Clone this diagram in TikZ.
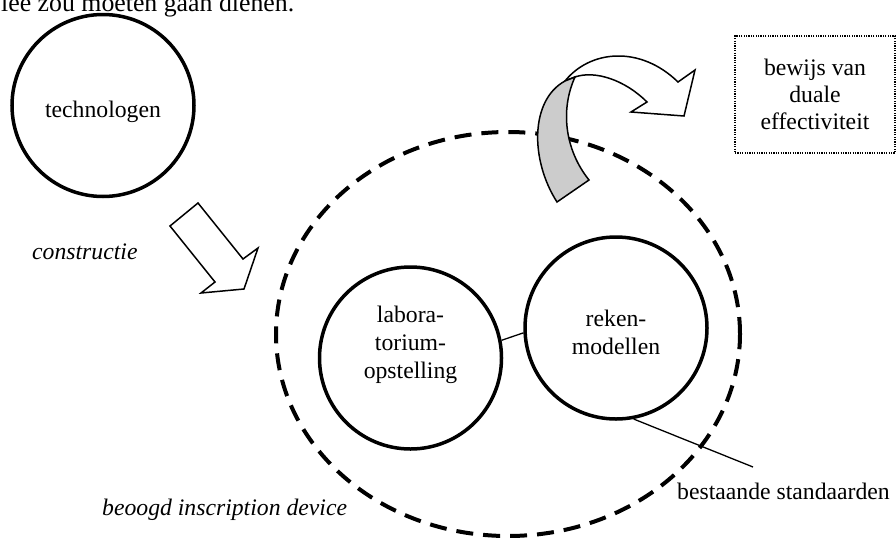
\documentclass[tikz,border=0pt]{standalone}
\usepackage{fontspec}
\setmainfont{Liberation Serif}
\usetikzlibrary{shapes.geometric}
\begin{document}
\begin{tikzpicture}[x=1pt,y=-1pt,
  txt/.style={font=\fontsize{23.7}{28}\selectfont, inner sep=0pt, align=center},
  itxt/.style={font=\fontsize{23.7}{28}\selectfont\itshape, inner sep=0pt},
  ring/.style={circle, draw, line width=3.5pt, minimum size=182pt, inner sep=0pt, fill=white},
  devring/.style={ellipse, draw, line width=4pt, dash pattern=on 17pt off 10pt, minimum width=464pt, minimum height=404pt, inner sep=0pt},
  dotbox/.style={draw, line width=1.2pt, dash pattern=on 1.2pt off 1.2pt, minimum width=160pt, minimum height=117pt, inner sep=0pt, align=center, font=\fontsize{23.7}{27}\selectfont},
  thinline/.style={line width=1.3pt},
  blockarrow/.style={draw, line width=1.5pt, line join=miter, fill=white}
]
\useasboundingbox (0,0) rectangle (896,541);
\clip (0,0) rectangle (896,541);

\node[anchor=base west, font=\fontsize{25.8}{30}\selectfont, inner sep=0pt] (bodytext) at (1,11) {lee zou moeten gaan dienen.};

\node[devring] (device) at (508,334) {};

\node[ring] (tech) at (103,105.5) {};
\node[txt, anchor=base] (techtext) at (103,117) {technologen};

\node[ring] (lab) at (410.5,358) {};
\node[txt, anchor=north] (labtext) at (410.5,306) {labora-\\torium-\\opstelling};

\node[ring] (reken) at (616,328) {};
\node[txt, anchor=north] (rekentext) at (616,310) {reken-\\modellen};

\node[dotbox] (proof) at (815,94.5) {bewijs van\\duale\\effectiviteit};

\node[itxt, anchor=base west] (constr) at (32,259) {constructie};
\node[itxt, anchor=base west] (devlabel) at (102,515) {beoogd inscription device};
\node[txt, anchor=base west] (standards) at (677,499) {bestaande standaarden};
\coordinate (stdend) at (753,467);

\draw[thinline] (lab.11.6) -- (reken.183);
\draw[thinline] (reken.-79) -- (stdend);

% block arrow: construction
\draw[blockarrow] (170,226) -- (198,203) -- (243,259) -- (258,248) -- (244,289) -- (201,293) -- (215,282) -- cycle;

% curved arrow out of the device
\draw[blockarrow] (565,81) .. controls (590,50) and (640,45) .. (678,82) -- (695,70) -- (684,116) -- (631,112) -- (647,102) .. controls (625,80) and (595,70) .. (575,77) -- cycle;
\draw[blockarrow, fill=black!20] (557,202) .. controls (530,160) and (530,100) .. (565,81) -- (575,77) .. controls (560,110) and (565,150) .. (589,180) -- cycle;
\end{tikzpicture}
\end{document}
